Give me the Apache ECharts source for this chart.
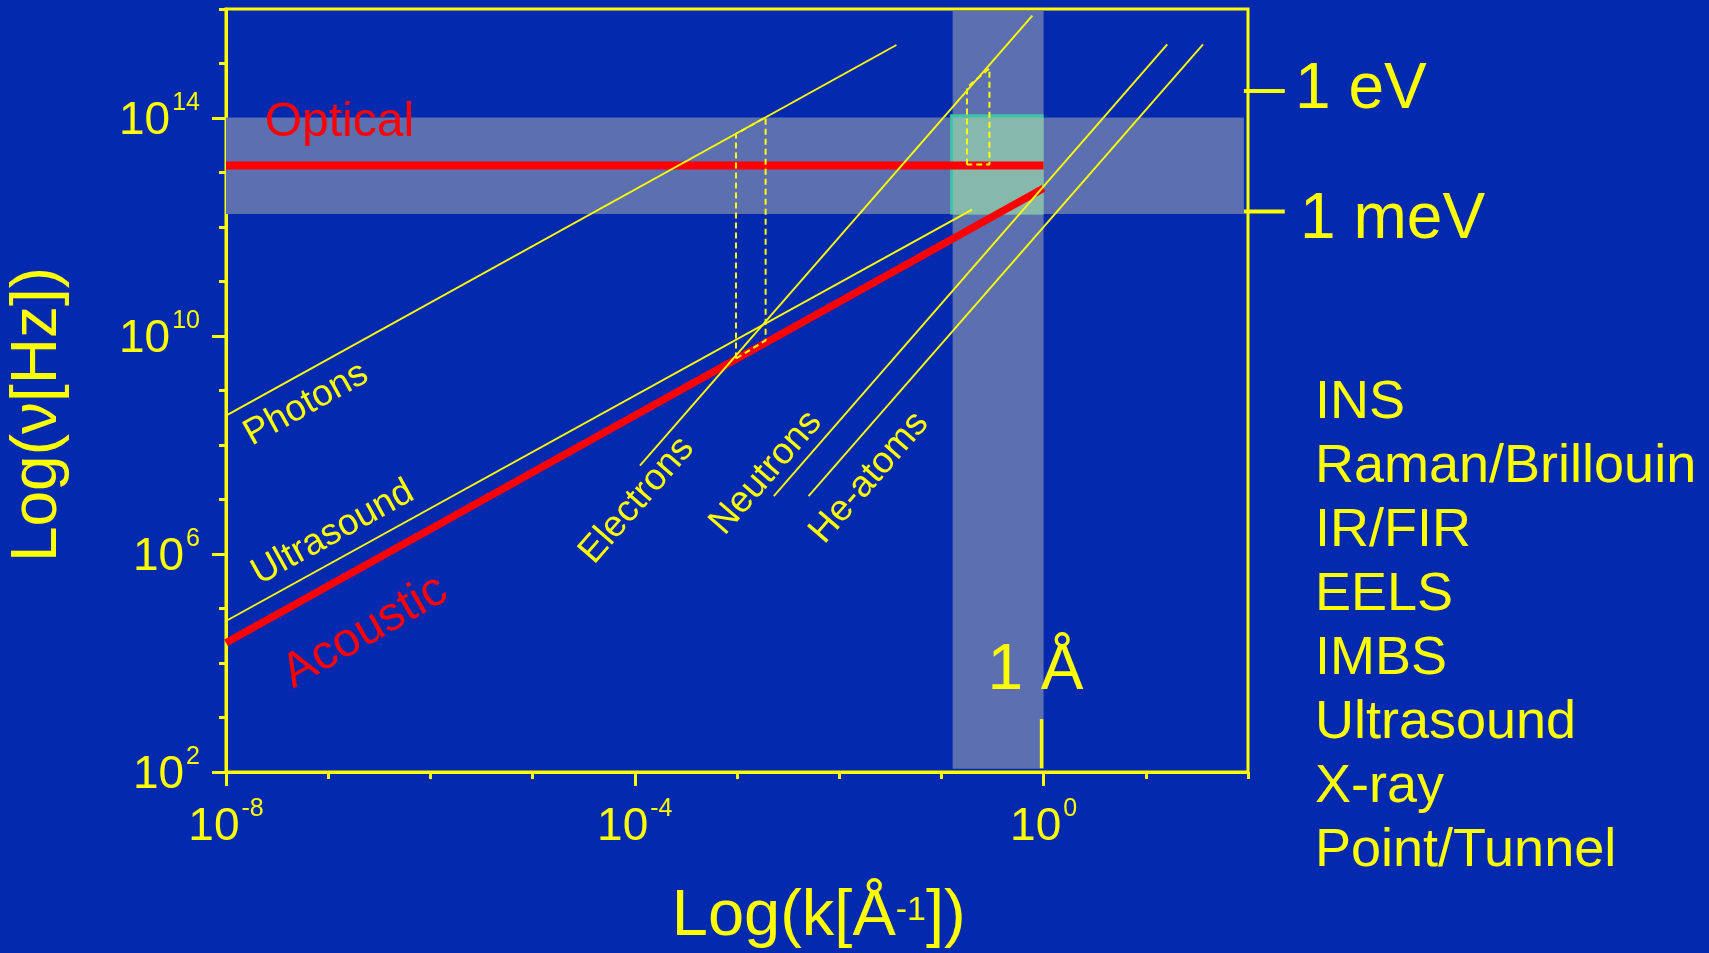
<!DOCTYPE html>
<html>
<head>
<meta charset="utf-8">
<script src="https://cdn.jsdelivr.net/npm/echarts@6/dist/echarts.min.js"></script>
<style>
html,body{margin:0;padding:0;background:#0329AF;}
#chart{width:1709px;height:953px;}
</style>
</head>
<body>
<div id="chart"></div>
<script>
// All values are decimal exponents: x = log10(k [1/Å]), y = log10(ν [Hz])
const xLabelExps = [-8, -4, 0];
const yLabelExps = [2, 6, 10, 14];

const photons    = [[-8, 8.54], [-1.44, 15.34]];
const ultrasound = [[-8, 4.77], [-0.70, 12.32]];
const acoustic   = [[-8, 4.37], [0, 12.71]];
const optical    = [[-8, 13.13], [0, 13.13]];
const electrons  = [[-3.95, 7.62], [-0.11, 15.88]];
const neutrons   = [[-2.64, 7.06], [1.21, 15.35]];
const heAtoms    = [[-2.30, 7.06], [1.56, 15.35]];

const dashedBoxA = [[-3.01, 9.585], [-3.01, 13.71], [-2.72, 14.01], [-2.72, 9.92], [-3.01, 9.585]];
const dashedBoxB = [[-0.75, 13.145], [-0.75, 14.56], [-0.53, 14.91], [-0.53, 13.145], [-0.75, 13.145]];

// rectangles: [xFrom, xTo, yFrom, yTo]
const opticalBand   = [-8, 1.96, 12.24, 14.01];
const angstromBand  = [-0.89, 0, 2.06, 15.97];
const overlapEdge   = [-0.915, 0, 12.23, 14.07];
const overlapFill   = [-0.888, 0, 12.23, 14.01];

// marker segments: [x0, y0, x1, y1]
const angstromMark = [-0.02, 2.07, -0.02, 2.97];
const eVMark       = [1.96, 14.495, 2.36, 14.495];
const meVMark      = [1.96, 12.283, 2.36, 12.283];

const annotations = [
  ['Optical',    -6.89, 13.91],
  ['Photons',    -7.215, 8.75],
  ['Ultrasound', -6.956, 6.39],
  ['Acoustic',   -6.64, 4.57],
  ['Electrons',  -3.98, 6.985],
  ['Neutrons',   -2.716, 7.49],
  ['He-atoms',   -1.706, 7.40],
  ['1 Å',        -0.08, 3.84],
  ['1 eV',        2.461, 14.515],
  ['1 meV',       2.51, 12.12]
];

const methods = ['INS', 'Raman/Brillouin', 'IR/FIR', 'EELS', 'IMBS', 'Ultrasound', 'X-ray', 'Point/Tunnel'];

const YEL = '#FFFF00', RED = '#FF0000', BG = '#0329AF', BAND = '#5C6FB0';
const FF = "'Liberation Sans', Arial, Helvetica, sans-serif";

const labelStyles = {
  'Optical':    {color: RED, fontSize: 48, rotate: 0},
  'Photons':    {color: YEL, fontSize: 37, rotate: 29},
  'Ultrasound': {color: YEL, fontSize: 37, rotate: 29},
  'Acoustic':   {color: RED, fontSize: 48, rotate: 30},
  'Electrons':  {color: YEL, fontSize: 37, rotate: 49},
  'Neutrons':   {color: YEL, fontSize: 37, rotate: 49},
  'He-atoms':   {color: YEL, fontSize: 37, rotate: 49},
  '1 Å':        {color: YEL, fontSize: 64, rotate: 0},
  '1 eV':       {color: YEL, fontSize: 64, rotate: 0, align: 'left'},
  '1 meV':      {color: YEL, fontSize: 64, rotate: 0, align: 'left'}
};

function rectSeries(name, arr, color, z) {
  return {
    name, type: 'custom', z, silent: true, clip: false,
    data: [arr], encode: {x: [0, 1], y: [2, 3]},
    renderItem: (params, api) => {
      const p0 = api.coord([api.value(0), api.value(3)]);
      const p1 = api.coord([api.value(1), api.value(2)]);
      return {type: 'rect', shape: {x: p0[0], y: p0[1], width: p1[0] - p0[0], height: p1[1] - p0[1]},
              style: {fill: color}};
    }
  };
}
function segmentSeries(name, arr, color, width, z) {
  return {
    name, type: 'custom', z, silent: true, clip: false,
    data: [arr], encode: {x: [0, 2], y: [1, 3]},
    renderItem: (params, api) => {
      const p0 = api.coord([api.value(0), api.value(1)]);
      const p1 = api.coord([api.value(2), api.value(3)]);
      return {type: 'line', shape: {x1: p0[0], y1: p0[1], x2: p1[0], y2: p1[1]},
              style: {stroke: color, lineWidth: width}};
    }
  };
}
function lineSeries(name, data, color, width, z, dash) {
  return {
    name, type: 'line', data, z, silent: true, clip: false,
    showSymbol: false, symbol: 'none',
    lineStyle: {color, width, cap: 'butt', type: dash || 'solid', opacity: 1}
  };
}

const supRich = {
  s: {fontSize: 25, lineHeight: 25, verticalAlign: 'top', padding: [0, 0, 0, 2], fontFamily: FF, color: YEL}
};
const expFmt = v => '10{s|' + v + '}';

const option = {
  backgroundColor: BG,
  animation: false,
  grid: {left: 226, top: 9, width: 1022, height: 763, show: true, borderColor: YEL, borderWidth: 3, backgroundColor: 'transparent'},
  xAxis: [
    {type: 'value', min: -8, max: 2, interval: 1, position: 'bottom',
     axisLine: {show: true, onZero: false, lineStyle: {color: YEL, width: 3}},
     axisTick: {show: true, length: 7, lineStyle: {color: YEL, width: 3}},
     axisLabel: {show: false}, splitLine: {show: false}},
    {type: 'value', min: -8, max: 2, interval: 4, position: 'bottom',
     axisLine: {show: false, onZero: false},
     axisTick: {show: true, length: 14, customValues: xLabelExps, lineStyle: {color: YEL, width: 3}},
     axisLabel: {show: true, customValues: xLabelExps, formatter: expFmt, margin: 25,
                 color: YEL, fontSize: 46, lineHeight: 60, fontFamily: FF, rich: supRich},
     splitLine: {show: false}}
  ],
  yAxis: [
    {type: 'value', min: 2, max: 16, interval: 1, position: 'left',
     axisLine: {show: true, onZero: false, lineStyle: {color: YEL, width: 3}},
     axisTick: {show: true, length: 7, lineStyle: {color: YEL, width: 3}},
     axisLabel: {show: false}, splitLine: {show: false}},
    {type: 'value', min: 2, max: 16, interval: 2, position: 'left',
     axisLine: {show: false, onZero: false},
     axisTick: {show: true, length: 14, customValues: yLabelExps, lineStyle: {color: YEL, width: 3}},
     axisLabel: {show: true, customValues: yLabelExps, formatter: expFmt, margin: 26,
                 color: YEL, fontSize: 46, lineHeight: 60, padding: [6, 0, 0, 0], fontFamily: FF, rich: supRich},
     splitLine: {show: false}}
  ],
  graphic: [
    {type: 'text', x: 818.7, y: 916.7, z: 10,
     style: {text: 'Log(k[Å{s|-1}])', fill: YEL, fontSize: 65, lineHeight: 65, fontFamily: FF,
             align: 'center', verticalAlign: 'middle',
             rich: {s: {fontSize: 34, lineHeight: 34, verticalAlign: 'top', padding: [9, 0, 0, 0], fill: YEL, fontFamily: FF}}}},
    {type: 'text', x: 38.5, y: 414.5, rotation: Math.PI / 2, z: 10,
     style: {text: 'Log(ν[Hz])', fill: YEL, fontSize: 64, fontFamily: FF, align: 'center', verticalAlign: 'middle'}},
    {type: 'text', x: 1315, y: 371, z: 10,
     style: {text: methods.join('\n'), fill: YEL, fontSize: 54, lineHeight: 64, fontFamily: FF}}
  ],
  series: [
    rectSeries('opticalBand', opticalBand, BAND, 1),
    rectSeries('angstromBand', angstromBand, BAND, 1),
    rectSeries('overlapEdge', overlapEdge, '#3FC3A6', 1),
    rectSeries('overlapFill', overlapFill, '#87B8AC', 1),
    lineSeries('Optical', optical, RED, 8, 2),
    lineSeries('Acoustic', acoustic, RED, 7.5, 2),
    lineSeries('Photons', photons, YEL, 1.9, 3),
    lineSeries('Ultrasound', ultrasound, YEL, 1.9, 3),
    lineSeries('Electrons', electrons, YEL, 1.9, 3),
    lineSeries('Neutrons', neutrons, YEL, 1.9, 3),
    lineSeries('He-atoms', heAtoms, YEL, 1.9, 3),
    lineSeries('boxA', dashedBoxA, YEL, 2, 4, [6, 4]),
    lineSeries('boxB', dashedBoxB, YEL, 2, 4, [6, 4]),
    segmentSeries('1A', angstromMark, YEL, 3.5, 3),
    segmentSeries('eV', eVMark, YEL, 4, 3),
    segmentSeries('meV', meVMark, YEL, 4, 3),
    {
      name: 'labels', type: 'scatter', z: 6, silent: true, clip: false, symbolSize: 0,
      itemStyle: {opacity: 1},
      data: annotations.map(a => {
        const st = labelStyles[a[0]];
        return {
          name: a[0], value: [a[1], a[2]],
          itemStyle: {opacity: 1},
          label: {show: true, position: 'inside', formatter: a[0], color: st.color, fontSize: st.fontSize,
                  fontFamily: FF, rotate: st.rotate, align: st.align || 'center', verticalAlign: 'middle',
                  opacity: 1, textBorderWidth: 0, textBorderColor: 'transparent', textShadowBlur: 0}
        };
      })
    }
  ]
};

const chart = echarts.init(document.getElementById('chart'), null, {renderer: 'canvas'});
chart.setOption(option);
</script>
</body>
</html>
